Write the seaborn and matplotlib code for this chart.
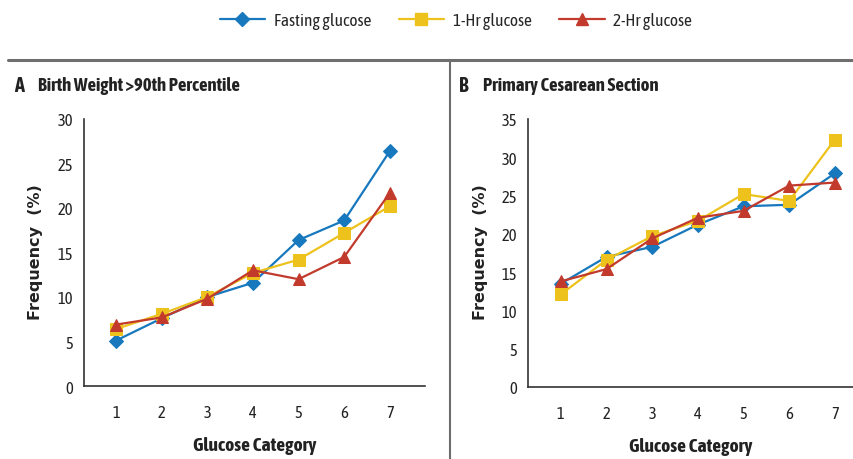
import matplotlib
matplotlib.use("Agg")
import matplotlib.pyplot as plt
import seaborn as sns
import pandas as pd
from matplotlib.lines import Line2D

categories = [1, 2, 3, 4, 5, 6, 7]
series_names = ["Fasting glucose", "1-Hr glucose", "2-Hr glucose"]

a_fasting = [5.1, 7.6, 10.0, 11.6, 16.4, 18.6, 26.4]
a_1hr = [6.4, 8.1, 10.0, 12.7, 14.2, 17.2, 20.2]
a_2hr = [6.9, 7.7, 9.8, 13.0, 12.0, 14.5, 21.7]

b_fasting = [13.5, 17.0, 18.3, 21.2, 23.6, 23.8, 27.9]
b_1hr = [12.1, 16.6, 19.7, 21.7, 25.2, 24.3, 32.3]
b_2hr = [13.8, 15.4, 19.4, 22.1, 23.0, 26.3, 26.7]

panel_titles = ["Birth Weight >90th Percentile", "Primary Cesarean Section"]
panel_letters = ["A", "B"]
y_ticks_a = [0, 5, 10, 15, 20, 25, 30]
y_ticks_b = [0, 5, 10, 15, 20, 25, 30, 35]

colors = {"Fasting glucose": "#1878bd", "1-Hr glucose": "#eec21c", "2-Hr glucose": "#c23a2c"}
markers = {"Fasting glucose": "D", "1-Hr glucose": "s", "2-Hr glucose": "^"}
msizes = {"Fasting glucose": 7, "1-Hr glucose": 8, "2-Hr glucose": 9}

sns.set_theme(style="white")
narrow = ["Asap Condensed", "DejaVu Sans"]
wide = ["DejaVu Sans"]
plt.rcParams["font.family"] = narrow


def make_df(vals):
    rows = []
    for name, v in zip(series_names, vals):
        for c, y in zip(categories, v):
            rows.append({"cat": c, "val": y, "series": name})
    return pd.DataFrame(rows)


df_a = make_df([a_fasting, a_1hr, a_2hr])
df_b = make_df([b_fasting, b_1hr, b_2hr])

fig = plt.figure(figsize=(8.54, 4.6), dpi=100)
ax_a = fig.add_axes([84 / 854, 1 - 387 / 460, (425 - 84) / 854, (387 - 120) / 460])
ax_b = fig.add_axes([528 / 854, 1 - 388 / 460, (854 - 528) / 854, (388 - 120) / 460])

for ax, df, yt, xl in [(ax_a, df_a, y_ticks_a, (0.30, 7.77)), (ax_b, df_b, y_ticks_b, (0.28, 7.42))]:
    for name in series_names:
        sub = df[df["series"] == name]
        sns.lineplot(data=sub, x="cat", y="val", ax=ax, color=colors[name],
                     marker=markers[name], markersize=msizes[name],
                     markeredgecolor=colors[name], linewidth=1.6, legend=False)
    ax.set_xlim(*xl)
    ax.set_ylim(yt[0], yt[-1])
    ax.set_xticks(categories)
    ax.set_yticks(yt)
    ax.tick_params(axis="both", which="both", direction="out", length=6, width=1,
                   color="#333333", labelsize=12, labelcolor="#222222", pad=2)
    ax.tick_params(axis="x", pad=7)
    for s in ["top", "right"]:
        ax.spines[s].set_visible(False)
    for s in ["left", "bottom"]:
        ax.spines[s].set_color("#333333")
        ax.spines[s].set_linewidth(1.2)
    ax.set_xlabel("Glucose Category", fontsize=14, fontweight="bold", color="#222222", labelpad=11)
    ax.set_ylabel("")
    ax.grid(False)

for xpix in (36, 481):
    fig.text(xpix / 854, 1 - 252 / 460, "Frequency  (%)", rotation=90, ha="center", va="center",
             fontsize=11.5, fontweight="bold", color="#222222", family=wide)

fig.text(14 / 854, 1 - 86 / 460, panel_letters[0], fontsize=14.5, fontweight="bold", va="center", color="#222222")
fig.text(38 / 854, 1 - 86 / 460, panel_titles[0], fontsize=13.5, fontweight="bold", va="center", color="#222222")
fig.text(459 / 854, 1 - 86 / 460, panel_letters[1], fontsize=14.5, fontweight="bold", va="center", color="#222222")
fig.text(483 / 854, 1 - 86 / 460, panel_titles[1], fontsize=13.5, fontweight="bold", va="center", color="#222222")

# frame lines
fig.add_artist(Line2D([8 / 854, 1.0], [1 - 61 / 460, 1 - 61 / 460], transform=fig.transFigure,
                      color="#6e6e6e", linewidth=2.2))
fig.add_artist(Line2D([450 / 854, 450 / 854], [0, 1 - 61 / 460], transform=fig.transFigure,
                      color="#6e6e6e", linewidth=1.5))

handles = [Line2D([0], [0], color=colors[n], marker=markers[n], markersize=msizes[n],
                  markeredgecolor=colors[n], linewidth=1.6) for n in series_names]
fig.legend(handles, series_names, loc="center", bbox_to_anchor=(456 / 854, 1 - 22 / 460),
           ncol=3, frameon=False, fontsize=12.5, handlelength=2.6, columnspacing=1.6,
           handletextpad=0.5)

fig.savefig("out.png", dpi=100)
